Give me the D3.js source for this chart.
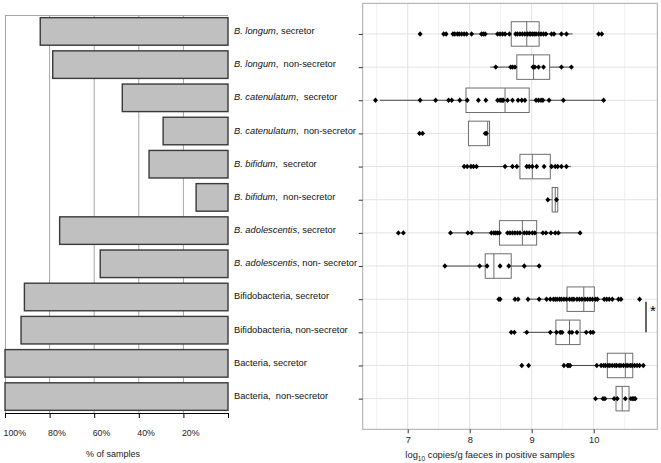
<!DOCTYPE html>
<html><head><meta charset="utf-8">
<script src="https://cdn.jsdelivr.net/npm/d3@7"></script>
<style>
body{margin:0;background:#fff;}
text{font-family:"Liberation Sans",Arial,sans-serif;}
</style></head>
<body><svg id="chart" width="661" height="463"></svg>
<script>
// ---- data ----
const categoryItalic = ["B. longum","B. longum","B. catenulatum","B. catenulatum","B. bifidum","B. bifidum","B. adolescentis","B. adolescentis","","","",""];
const categoryRest = [", secretor",",  non-secretor",",  secretor",",  non-secretor",",  secretor",",  non-secretor",", secretor",", non- secretor","Bifidobacteria, secretor","Bifidobacteria, non-secretor","Bacteria, secretor","Bacteria,  non-secretor"];
const pctPositive = [84.2, 78.6, 47.4, 29.1, 35.4, 14.3, 75.5, 57.3, 91.3, 92.8, 100, 100];
const pctTicks = [100, 80, 60, 40, 20, 0];
const logTicks = [7, 8, 9, 10];

const boxQ1  = [8.67, 8.76, 7.94, 7.98, 8.81, 9.33, 8.48, 8.25, 9.57, 9.39, 10.22, 10.36];
const boxMed = [8.92, 9.03, 8.57, 8.29, 9.01, 9.38, 8.85, 8.39, 9.84, 9.61, 10.51, 10.46];
const boxQ3  = [9.12, 9.29, 8.96, 8.32, 9.30, 9.42, 9.08, 8.67, 10.01, 9.78, 10.63, 10.57];
const whiskLo = [8.03, 8.33, 6.55, 7.98, 7.90, 9.26, 7.69, 7.60, 8.94, 8.86, 9.60, 10.03];
const whiskHi = [9.66, 9.64, 10.16, 8.32, 9.63, 9.42, 9.78, 9.12, 10.44, 9.99, 10.80, 10.67];

const ptsLongumSec = [7.20,7.58,7.62,7.73,7.76,7.80,7.83,7.87,7.91,7.95,8.03,8.19,8.22,8.25,8.45,8.49,8.53,8.57,8.64,8.74,8.77,8.81,8.85,8.89,8.93,8.96,8.98,9.01,9.04,9.07,9.11,9.15,9.19,9.23,9.32,9.36,9.48,9.56,10.08,10.13];
const ptsLongumNon = [8.42,8.66,8.69,8.73,9.02,9.05,9.11,9.19,9.48,9.64];
const ptsCatenSec = [6.48,7.20,7.45,7.66,7.71,7.84,7.96,8.14,8.26,8.45,8.49,8.52,8.54,8.61,8.69,8.78,8.84,8.89,9.07,9.11,9.15,9.18,9.28,9.51,10.16];
const ptsCatenNon = [7.19,7.24,8.25,8.27];
const ptsBifSec = [7.91,7.96,8.02,8.06,8.11,8.57,8.69,8.76,8.92,8.96,9.01,9.08,9.20,9.32,9.38,9.42,9.48,9.56];
const ptsBifNon = [9.26,9.40];
const ptsAdolSec = [6.85,6.93,7.69,7.97,8.03,8.35,8.39,8.42,8.45,8.48,8.61,8.65,8.69,8.73,8.77,8.81,8.88,8.92,8.96,9.01,9.05,9.18,9.23,9.31,9.38,9.43,9.78];
const ptsAdolNon = [7.60,8.16,8.28,8.49,8.63,8.88,9.12];
const ptsBifidoSec = [8.47,8.49,8.73,8.78,8.94,9.12,9.24,9.30,9.35,9.38,9.41,9.45,9.48,9.52,9.56,9.61,9.65,9.68,9.73,9.77,9.81,9.86,9.90,9.94,9.98,10.03,10.06,10.17,10.21,10.25,10.30,10.40,10.44,10.74];
const ptsBifidoNon = [8.67,8.72,8.92,9.30,9.40,9.46,9.49,9.61,9.65,9.73,9.88,9.95,9.99];
const ptsBactSec = [8.84,8.95,9.52,9.58,9.60,9.62,10.05,10.12,10.16,10.19,10.23,10.26,10.30,10.34,10.37,10.41,10.44,10.48,10.52,10.55,10.59,10.62,10.66,10.70,10.74,10.80];
const ptsBactNon = [10.03,10.15,10.18,10.33,10.38,10.51,10.60,10.63,10.65,10.67];

const allPoints = [ptsLongumSec, ptsLongumNon, ptsCatenSec, ptsCatenNon, ptsBifSec, ptsBifNon, ptsAdolSec, ptsAdolNon, ptsBifidoSec, ptsBifidoNon, ptsBactSec, ptsBactNon];

// ---- drawing ----
const svg = d3.select("#chart");
const idx = d3.range(12);

// Left panel
const L = {x0: 5, x1: 228, y0: 15, y1: 413};
const xL = d3.scaleLinear().domain([100, 0]).range([L.x0, L.x1]);
const yL = d3.scaleBand().domain(idx).range([L.y0, L.y1]).paddingInner(0.17).paddingOuter(0.08);

const gl = svg.append("g");
gl.selectAll("line.grid").data([80, 60, 40, 20]).join("line")
  .attr("x1", d => xL(d)).attr("x2", d => xL(d)).attr("y1", L.y0).attr("y2", L.y1)
  .attr("stroke", "#a6a6a6").attr("stroke-width", 1);
gl.append("line").attr("x1", L.x0).attr("x2", L.x1).attr("y1", L.y0 + 0.5).attr("y2", L.y0 + 0.5).attr("stroke", "#a6a6a6");
gl.append("line").attr("x1", L.x0 + 0.5).attr("x2", L.x0 + 0.5).attr("y1", L.y0).attr("y2", L.y1).attr("stroke", "#a6a6a6");

gl.selectAll("rect.bar").data(idx).join("rect")
  .attr("x", i => xL(pctPositive[i]))
  .attr("y", i => yL(i))
  .attr("width", i => xL(0) - xL(pctPositive[i]))
  .attr("height", yL.bandwidth())
  .attr("fill", "#c0c0c0").attr("stroke", "#3a3a3a").attr("stroke-width", 1.4);

const axL = d3.axisBottom(xL).tickValues(pctTicks).tickSize(5).tickFormat(d => d === 0 ? "" : d + "%");
const gax = gl.append("g").attr("transform", `translate(0,${L.y1})`).call(axL);
gax.select(".domain").attr("stroke", "#000").attr("d", `M${L.x0},0.5H${L.x1}`);
gax.selectAll(".tick line").attr("stroke", "#000");
gax.selectAll(".tick text").attr("font-size", 8.8).attr("fill", "#222").attr("text-anchor", "start")
  .attr("x", -2).attr("dy", 0).attr("y", 23)
  .style("font-family", "'Liberation Sans',Arial,sans-serif");
gl.append("text").attr("x", 113).attr("y", 457).attr("text-anchor", "middle")
  .attr("font-size", 9).attr("fill", "#222").text("% of samples");

// Category labels
const labels = svg.append("g");
idx.forEach(i => {
  const t = labels.append("text").attr("x", 234).attr("y", yL(i) + yL.bandwidth() / 2 + 2.5)
    .attr("font-size", 9.3).attr("fill", "#111").style("white-space", "pre");
  if (categoryItalic[i]) t.append("tspan").attr("font-style", "italic").text(categoryItalic[i]);
  t.append("tspan").text(categoryRest[i]);
});

// Right panel
const R = {x0: 362.7, x1: 657.3, y0: 3.3, y1: 429.3};
const xR = d3.scaleLinear().domain([6.274, 11.026]).range([R.x0, R.x1]);
const yR = d3.scalePoint().domain(idx).range([R.y0, R.y1]).padding(0.925);

const gr = svg.append("g");
gr.append("rect").attr("x", R.x0).attr("y", R.y0).attr("width", R.x1 - R.x0).attr("height", R.y1 - R.y0).attr("fill", "#fff");
const minor = d3.range(6.5, 11.01, 1);
gr.selectAll("line.minor").data(minor).join("line")
  .attr("x1", d => xR(d)).attr("x2", d => xR(d)).attr("y1", R.y0).attr("y2", R.y1)
  .attr("stroke", "#f0f0f0").attr("stroke-width", 1);
gr.selectAll("line.major").data(logTicks).join("line")
  .attr("x1", d => xR(d)).attr("x2", d => xR(d)).attr("y1", R.y0).attr("y2", R.y1)
  .attr("stroke", "#e3e3e3").attr("stroke-width", 1);
gr.selectAll("line.hgrid").data(idx).join("line")
  .attr("x1", R.x0).attr("x2", R.x1).attr("y1", i => yR(i)).attr("y2", i => yR(i))
  .attr("stroke", "#e3e3e3").attr("stroke-width", 1);

// whiskers
gr.selectAll("line.wlo").data(idx).join("line")
  .attr("x1", i => xR(whiskLo[i])).attr("x2", i => xR(boxQ1[i]))
  .attr("y1", i => yR(i)).attr("y2", i => yR(i))
  .attr("stroke", "#333").attr("stroke-width", 0.9);
gr.selectAll("line.whi").data(idx).join("line")
  .attr("x1", i => xR(boxQ3[i])).attr("x2", i => xR(whiskHi[i]))
  .attr("y1", i => yR(i)).attr("y2", i => yR(i))
  .attr("stroke", "#333").attr("stroke-width", 0.9);
// boxes
const bh = 24.5;
gr.selectAll("rect.box").data(idx).join("rect")
  .attr("x", i => xR(boxQ1[i])).attr("y", i => yR(i) - bh / 2)
  .attr("width", i => xR(boxQ3[i]) - xR(boxQ1[i])).attr("height", bh)
  .attr("fill", "#fff").attr("stroke", "#6e6e6e").attr("stroke-width", 1);
gr.selectAll("line.med").data(idx).join("line")
  .attr("x1", i => xR(boxMed[i])).attr("x2", i => xR(boxMed[i]))
  .attr("y1", i => yR(i) - bh / 2).attr("y2", i => yR(i) + bh / 2)
  .attr("stroke", "#6e6e6e").attr("stroke-width", 1);

// points
const diamond = "M0,-2.7L2.5,0L0,2.7L-2.5,0Z";
idx.forEach(i => {
  gr.selectAll(null).data(allPoints[i]).join("path")
    .attr("d", diamond)
    .attr("transform", d => `translate(${xR(d)},${yR(i)})`)
    .attr("fill", "#000");
});

// border
gr.append("rect").attr("x", R.x0).attr("y", R.y0).attr("width", R.x1 - R.x0).attr("height", R.y1 - R.y0)
  .attr("fill", "none").attr("stroke", "#a8a8a8").attr("stroke-width", 1);

// axes
const axB = d3.axisBottom(xR).tickValues(logTicks).tickSize(4).tickPadding(3).tickFormat(d3.format("d"));
const gb = gr.append("g").attr("transform", `translate(0,${R.y1})`).call(axB);
gb.select(".domain").remove();
gb.selectAll(".tick line").attr("stroke", "#333");
gb.selectAll(".tick text").attr("font-size", 9.3).attr("fill", "#222")
  .style("font-family", "'Liberation Sans',Arial,sans-serif");
const axLft = d3.axisLeft(yR).tickSize(4).tickFormat("");
const gyl = gr.append("g").attr("transform", `translate(${R.x0},0)`).call(axLft);
gyl.select(".domain").remove();
gyl.selectAll(".tick line").attr("stroke", "#333");

const title = gr.append("text").attr("x", 490).attr("y", 458).attr("text-anchor", "middle")
  .attr("font-size", 9.4).attr("fill", "#222");
title.append("tspan").text("log");
title.append("tspan").attr("font-size", 6.5).attr("dy", 2.5).text("10");
title.append("tspan").attr("dy", -2.5).text(" copies/g faeces in positive samples");

// significance marker
gr.append("line").attr("x1", 646).attr("x2", 646).attr("y1", 301.7).attr("y2", 332.3)
  .attr("stroke", "#000").attr("stroke-width", 1.2);
gr.append("text").attr("x", 653).attr("y", 316).attr("text-anchor", "middle")
  .attr("font-size", 15).attr("fill", "#000").text("*");
</script></body></html>
